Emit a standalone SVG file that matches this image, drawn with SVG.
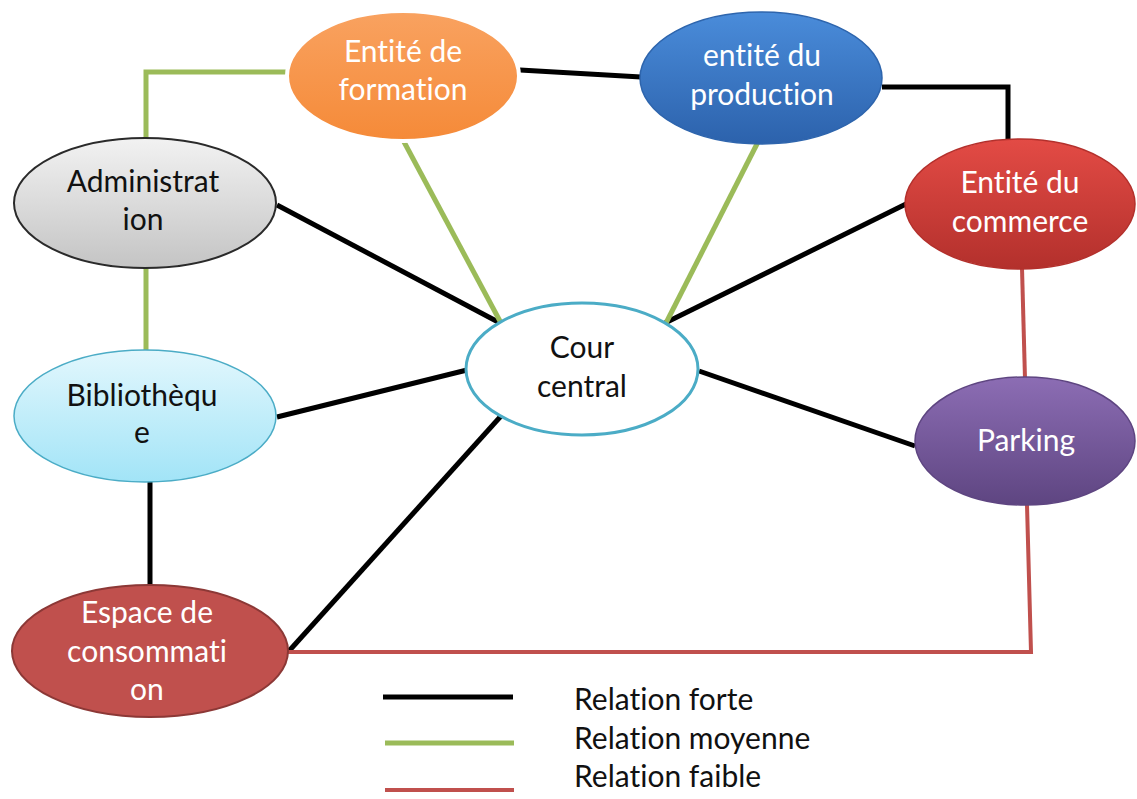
<svg xmlns="http://www.w3.org/2000/svg" width="1137" height="799" viewBox="0 0 1137 799">
<style>
.lbl{font-family:Lato,"Liberation Sans",sans-serif;font-size:30px;text-anchor:middle;font-variant-ligatures:none;font-feature-settings:"liga" 0,"clig" 0}
.w{fill:#ffffff}
.d{fill:#111111}
.leg{font-family:Lato,"Liberation Sans",sans-serif;font-size:30px;fill:#111111;font-variant-ligatures:none;font-feature-settings:"liga" 0,"clig" 0}
.strong{stroke:#000000;stroke-width:5;fill:none}
.mid{stroke:#9BBB59;stroke-width:5;fill:none}
.weak{stroke:#C0504D;stroke-width:4;fill:none}
</style>
<defs>
<linearGradient id="gOr" x1="0" y1="0" x2="0" y2="1"><stop offset="0" stop-color="#F9A260"/><stop offset="1" stop-color="#F58A38"/></linearGradient>
<linearGradient id="gBl" x1="0" y1="0" x2="0" y2="1"><stop offset="0" stop-color="#4A8CDA"/><stop offset="1" stop-color="#2C62AC"/></linearGradient>
<linearGradient id="gRd" x1="0" y1="0" x2="0" y2="1"><stop offset="0" stop-color="#E34B45"/><stop offset="1" stop-color="#B3302C"/></linearGradient>
<linearGradient id="gPu" x1="0" y1="0" x2="0" y2="1"><stop offset="0" stop-color="#8C6DB4"/><stop offset="1" stop-color="#5E4581"/></linearGradient>
<linearGradient id="gGr" x1="0" y1="0" x2="0" y2="1"><stop offset="0" stop-color="#F2F2F2"/><stop offset="1" stop-color="#C4C4C4"/></linearGradient>
<linearGradient id="gLb" x1="0" y1="0" x2="0" y2="1"><stop offset="0" stop-color="#E2F7FD"/><stop offset="1" stop-color="#A2E4F7"/></linearGradient>
</defs>
<rect width="1137" height="799" fill="#ffffff"/>
<g id="connectors">
<line class="strong" x1="520" y1="70" x2="641" y2="77"/>
<polyline class="strong" points="882,87 1008,87 1008,140"/>
<line class="strong" x1="277" y1="205" x2="500" y2="323"/>
<line class="strong" x1="277" y1="417" x2="467" y2="370"/>
<line class="strong" x1="150" y1="481" x2="150" y2="586"/>
<line class="strong" x1="289" y1="651" x2="501" y2="416"/>
<line class="strong" x1="665" y1="323" x2="906" y2="204"/>
<line class="strong" x1="699" y1="371" x2="915" y2="446"/>
<polyline class="mid" points="287,72 146,72 146,138"/>
<line class="mid" x1="146" y1="268" x2="146" y2="351"/>
<line class="mid" x1="403" y1="140" x2="501" y2="323"/>
<line class="mid" x1="759" y1="140" x2="666" y2="323"/>
<line class="weak" x1="1022" y1="268" x2="1025" y2="379"/>
<polyline class="weak" points="1027,505 1031,652 288,652"/>
</g>
<g id="formation">
<ellipse cx="403" cy="76" rx="116" ry="65" fill="url(#gOr)" stroke="#ffffff" stroke-width="4"/>
<text class="lbl w" x="403" y="62">Entité de</text>
<text class="lbl w" x="403" y="100">formation</text>
</g>
<g id="production">
<ellipse cx="761" cy="78" rx="121" ry="66" fill="url(#gBl)" stroke="#2E65AD" stroke-width="1.5"/>
<text class="lbl w" x="762" y="66">entité du</text>
<text class="lbl w" x="762" y="105">production</text>
</g>
<g id="administration">
<ellipse cx="145" cy="203" rx="131" ry="65" fill="url(#gGr)" stroke="#2a2a2a" stroke-width="2"/>
<text class="lbl d" x="143" y="192">Administrat</text>
<text class="lbl d" x="143" y="230">ion</text>
</g>
<g id="commerce">
<ellipse cx="1020" cy="204" rx="115" ry="65" fill="url(#gRd)" stroke="#B3302C" stroke-width="1.5"/>
<text class="lbl w" x="1020" y="193">Entité du</text>
<text class="lbl w" x="1020" y="232">commerce</text>
</g>
<g id="cour">
<ellipse cx="582" cy="369" rx="116" ry="66" fill="#ffffff" stroke="#4BACC6" stroke-width="3"/>
<text class="lbl d" x="582" y="358">Cour</text>
<text class="lbl d" x="582" y="397">central</text>
</g>
<g id="bibliotheque">
<ellipse cx="145" cy="416" rx="131" ry="66" fill="url(#gLb)" stroke="#4BACC6" stroke-width="1.5"/>
<text class="lbl d" x="142" y="406">Bibliothèqu</text>
<text class="lbl d" x="142" y="443">e</text>
</g>
<g id="parking">
<ellipse cx="1025" cy="441" rx="110" ry="64" fill="url(#gPu)" stroke="#5E4581" stroke-width="1.5"/>
<text class="lbl w" x="1026" y="451">Parking</text>
</g>
<g id="espace">
<ellipse cx="150" cy="651" rx="138" ry="66" fill="#C0504D" stroke="#8C3836" stroke-width="2"/>
<text class="lbl w" x="147" y="623">Espace de</text>
<text class="lbl w" x="147" y="662">consommati</text>
<text class="lbl w" x="147" y="700">on</text>
</g>
<g id="legend">
<line class="strong" x1="383" y1="697" x2="513" y2="697"/>
<line class="mid" x1="385" y1="743" x2="514" y2="743"/>
<line class="weak" x1="385" y1="790" x2="514" y2="790" stroke-width="5"/>
<text class="leg" x="574" y="710">Relation forte</text>
<text class="leg" x="574" y="749">Relation moyenne</text>
<text class="leg" x="574" y="787">Relation faible</text>
</g>
</svg>
